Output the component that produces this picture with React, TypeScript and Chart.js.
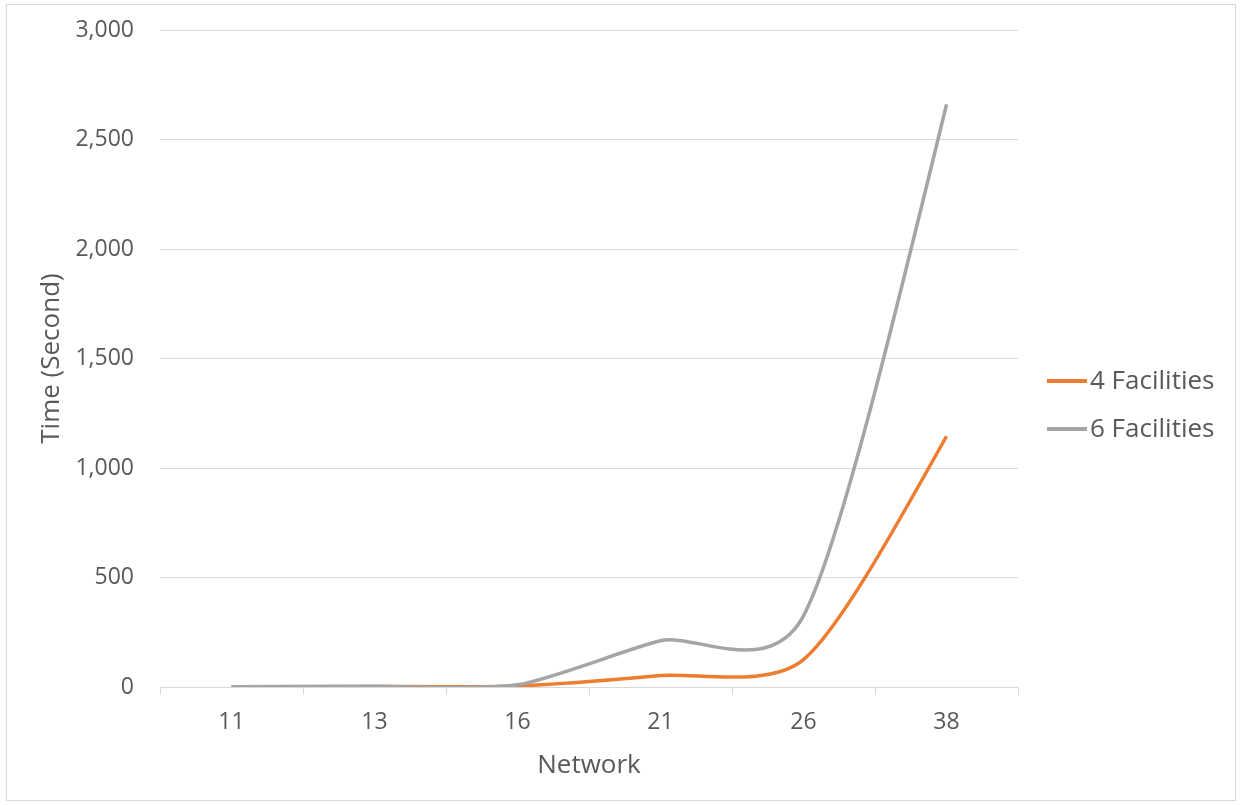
import React, { useEffect, useRef } from "react";
import { Chart, registerables } from "chart.js";

Chart.register(...registerables);

// Network sizes on the category axis
const networks = ["11", "13", "16", "21", "26", "38"];
// Run time in seconds for each facility count
const fourFacilities = [1, 2, 5, 52, 125, 1145];
const sixFacilities = [1, 3, 10, 211, 325, 2660];
// Value axis range
const yMin = 0;
const yMax = 3000;
const yStep = 500;

const FONT = "'Open Sans', sans-serif";
const TEXT = "#595959";
const GRID = "#D9D9D9";
// Share of the neighbour chord used for each Bezier handle
const SMOOTH = 0.12;

// Office-style smoothed line: symmetric handles along the neighbour chord,
// natural end conditions at the first and last point.
const officeSmoothing = {
  id: "officeSmoothing",
  beforeDatasetDraw(chart: any, args: any) {
    const meta = args.meta;
    const line = meta.dataset;
    const pts = meta.data;
    const n = pts.length;
    if (!line || n < 3) return;
    for (let i = 1; i < n - 1; i++) {
      const p = pts[i];
      const dx = (pts[i + 1].x - pts[i - 1].x) * SMOOTH;
      const dy = (pts[i + 1].y - pts[i - 1].y) * SMOOTH;
      p.cp1x = p.x - dx;
      p.cp1y = p.y - dy;
      p.cp2x = p.x + dx;
      p.cp2y = p.y + dy;
    }
    // first point
    const a = pts[0];
    const b = pts[1];
    const mbx = 3 * SMOOTH * (pts[2].x - a.x);
    const mby = 3 * SMOOTH * (pts[2].y - a.y);
    const m0x = (3 * (b.x - a.x) - mbx) / 2;
    const m0y = (3 * (b.y - a.y) - mby) / 2;
    a.cp1x = a.x;
    a.cp1y = a.y;
    a.cp2x = a.x + m0x / 3;
    a.cp2y = a.y + m0y / 3;
    // last point
    const z = pts[n - 1];
    const y = pts[n - 2];
    const myx = 3 * SMOOTH * (z.x - pts[n - 3].x);
    const myy = 3 * SMOOTH * (z.y - pts[n - 3].y);
    const mzx = (3 * (z.x - y.x) - myx) / 2;
    const mzy = (3 * (z.y - y.y) - myy) / 2;
    z.cp1x = z.x - mzx / 3;
    z.cp1y = z.y - mzy / 3;
    z.cp2x = z.x;
    z.cp2y = z.y;
    line._pointsUpdated = true;
  },
};

// Legend drawn to the right of the plot: a short line swatch followed by the label
const sideLegend = {
  id: "sideLegend",
  afterDraw(chart: any) {
    const { ctx, chartArea } = chart;
    const x0 = chartArea.right + 29;
    const lineLen = 40;
    const rowGap = 48;
    const items = chart.data.datasets;
    const midY = 405;
    const startY = midY - ((items.length - 1) * rowGap) / 2;
    ctx.save();
    ctx.font = `26px ${FONT}`;
    ctx.textBaseline = "middle";
    ctx.textAlign = "left";
    items.forEach((ds: any, i: number) => {
      const yy = startY + i * rowGap;
      ctx.strokeStyle = ds.borderColor;
      ctx.lineWidth = 4;
      ctx.lineCap = "butt";
      ctx.beginPath();
      ctx.moveTo(x0, yy);
      ctx.lineTo(x0 + lineLen, yy);
      ctx.stroke();
      ctx.fillStyle = TEXT;
      ctx.fillText(ds.label, x0 + lineLen + 3, yy + 1);
    });
    ctx.restore();
  },
};

export default function App() {
  const ref = useRef<HTMLCanvasElement | null>(null);

  useEffect(() => {
    if (!ref.current) return;
    const chart = new Chart(ref.current, {
      type: "line",
      data: {
        labels: networks,
        datasets: [
          {
            label: "4 Facilities",
            data: fourFacilities,
            borderColor: "#ED7D31",
            backgroundColor: "#ED7D31",
            borderWidth: 3.5,
            pointRadius: 0,
            tension: 0.4,
            fill: false,
            order: 1,
          },
          {
            label: "6 Facilities",
            data: sixFacilities,
            borderColor: "#A5A5A5",
            backgroundColor: "#A5A5A5",
            borderWidth: 3.5,
            pointRadius: 0,
            tension: 0.4,
            fill: false,
            order: 0,
          },
        ],
      },
      options: {
        animation: false,
        responsive: false,
        layout: { padding: { top: 30, left: 0, right: 222, bottom: 0 } },
        plugins: {
          tooltip: { enabled: false },
          legend: { display: false },
        },
        scales: {
          x: {
            offset: true,
            afterFit: (s: any) => {
              s.height = 118;
            },
            grid: {
              offset: true,
              drawOnChartArea: false,
              drawTicks: true,
              tickLength: 8,
              color: GRID,
            },
            border: { color: GRID, width: 1 },
            ticks: { color: TEXT, font: { family: FONT, size: 23 }, padding: 14 },
            title: {
              display: true,
              text: "Network",
              color: TEXT,
              font: { family: FONT, size: 26 },
              padding: { top: 0, bottom: 24 },
            },
          },
          y: {
            min: yMin,
            max: yMax,
            afterFit: (s: any) => {
              s.width = 160;
              s.paddingTop = 0;
              s.paddingBottom = 0;
            },
            grid: { color: GRID, drawTicks: false },
            border: { display: false },
            ticks: {
              stepSize: yStep,
              color: TEXT,
              padding: 26,
              font: { family: FONT, size: 23 },
              callback: (v: any) => Number(v).toLocaleString("en-US"),
            },
            title: {
              display: true,
              text: "Time (Second)",
              color: TEXT,
              font: { family: FONT, size: 26 },
              padding: { top: 36, bottom: 0 },
            },
          },
        },
      },
      plugins: [officeSmoothing, sideLegend],
    });
    return () => chart.destroy();
  }, []);

  return (
    <div
      style={{
        position: "absolute",
        left: 0,
        top: 0,
        width: 1240,
        height: 805,
        background: "#fff",
      }}
    >
      <div
        style={{
          position: "absolute",
          left: 6,
          top: 4,
          width: 1230,
          height: 797,
          border: "1px solid #D9D9D9",
          boxSizing: "border-box",
        }}
      />
      <canvas
        ref={ref}
        width={1240}
        height={805}
        style={{ position: "absolute", left: 0, top: 0 }}
      />
    </div>
  );
}
